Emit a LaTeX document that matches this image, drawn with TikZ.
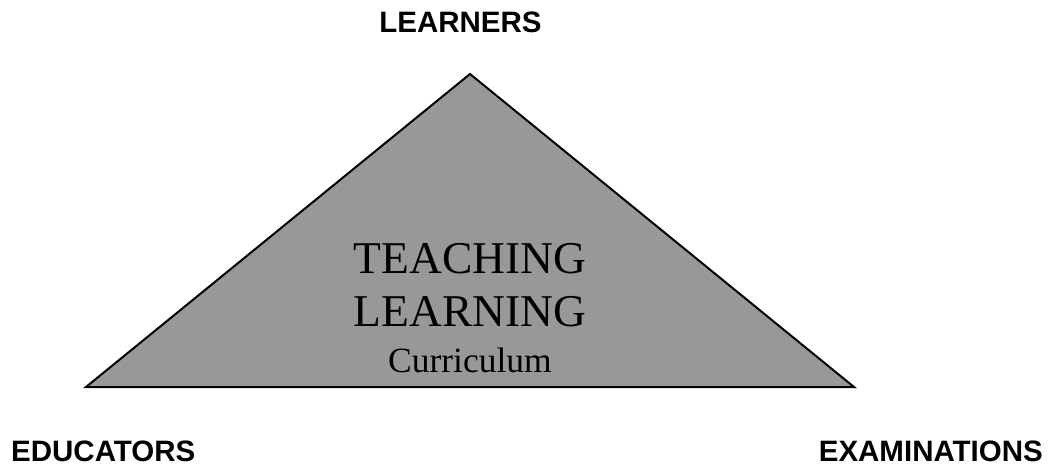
\documentclass[tikz,border=0pt]{standalone}
\usepackage{fontspec}
\setmainfont{Liberation Serif}
\newfontfamily\labelfont{Liberation Sans}
\definecolor{trifill}{RGB}{152,152,152}
\tikzset{
  cornerlabel/.style={font=\labelfont\fontsize{29.5}{34}\selectfont\bfseries, inner sep=0pt, anchor=base},
  bigtext/.style={font=\fontsize{45.5}{50}\selectfont, inner sep=0pt, anchor=base},
  smalltext/.style={font=\fontsize{35.5}{40}\selectfont, inner sep=0pt, anchor=base},
}
\begin{document}
\begin{tikzpicture}[x=1pt,y=-1pt]
\useasboundingbox (0,0) rectangle (1054,468);
\coordinate (apex) at (470,74);
\coordinate (bl) at (86,387);
\coordinate (br) at (854,387);
\draw[line width=2pt, line join=miter, fill=trifill] (apex) -- (bl) -- (br) -- cycle;
\node[cornerlabel] (learners) at (460.5,33) {LEARNERS};
\node[cornerlabel, anchor=base west] (educators) at (11,461) {EDUCATORS};
\node[cornerlabel, anchor=base east] (exams) at (1043,461) {EXAMINATIONS};
\node[bigtext] (teaching) at (470,273) {TEACHING};
\node[bigtext] (learning) at (470,326) {LEARNING};
\node[smalltext] (curr) at (470,372) {Curriculum};
\end{tikzpicture}
\end{document}
